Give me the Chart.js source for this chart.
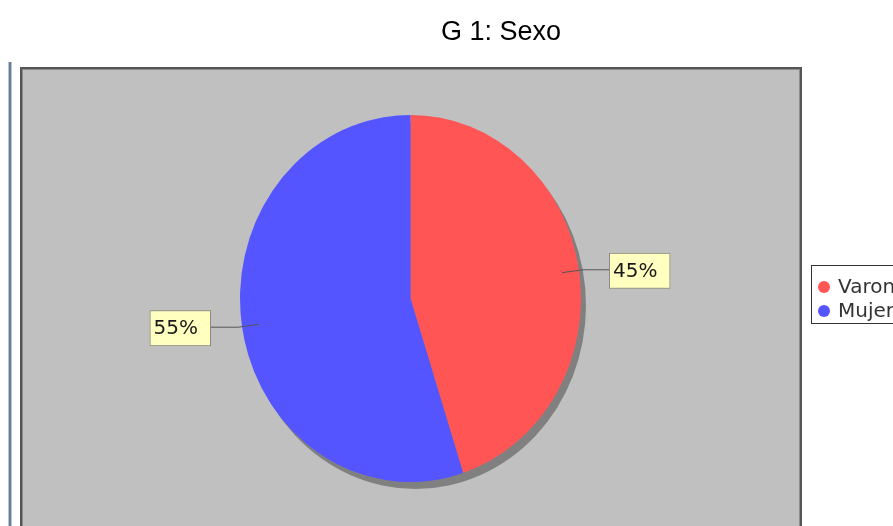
<!DOCTYPE html>
<html lang="es">
<head>
<meta charset="UTF-8">
<title>G 1: Sexo</title>
<script src="https://cdn.jsdelivr.net/npm/chart.js"></script>
<style>
  html, body { margin: 0; padding: 0; background: #fff; overflow: hidden; }
  canvas { display: block; }
</style>
</head>
<body>
<canvas id="sexoChart" width="893" height="526"></canvas>
<script>
// data
const titulo = 'G 1: Sexo';
const categorias = ['Varon', 'Mujer'];
const porcentajes = [45, 55];
const colores = ['#ff5555', '#5555ff'];

// the pie in the original is a bit taller than wide
const ESCALA_Y = 183.5 / 170.5;

// background, plot frame and title
const fondo = {
    id: 'fondo',
    beforeDraw(chart) {
        const c = chart.ctx;
        c.save();
        c.fillStyle = '#ffffff';
        c.fillRect(0, 0, chart.width, chart.height);

        // thin double rule on the far left
        c.fillStyle = '#b4c6d8';
        c.fillRect(8, 62, 1, 470);
        c.fillRect(11, 62, 1, 470);
        c.fillStyle = '#6a7f94';
        c.fillRect(9, 62, 2, 470);

        // gray plot box
        c.fillStyle = '#c0c0c0';
        c.fillRect(20, 67, 782, 480);
        c.strokeStyle = '#555555';
        c.lineWidth = 2;
        c.strokeRect(21, 68, 780, 480);
        c.strokeStyle = '#8c8c8c';
        c.lineWidth = 1;
        c.strokeRect(22.5, 69.5, 777, 480);

        // title
        c.fillStyle = '#000';
        c.font = '27px "Liberation Sans", Arial, sans-serif';
        c.textAlign = 'center';
        c.textBaseline = 'alphabetic';
        c.fillText(titulo, 501, 40);
        c.restore();
    }
};

// stretch the pie vertically and draw its drop shadow
const elipse = {
    id: 'elipse',
    beforeDatasetsDraw(chart) {
        const arc = chart.getDatasetMeta(0).data[0];
        const c = chart.ctx;
        c.save();
        c.translate(arc.x, arc.y);
        c.scale(1, ESCALA_Y);
        c.translate(-arc.x, -arc.y);
        c.fillStyle = '#808080';
        c.beginPath();
        c.arc(arc.x + 5, arc.y + 7 / ESCALA_Y, arc.outerRadius, 0, Math.PI * 2);
        c.fill();
    },
    afterDatasetsDraw(chart) {
        chart.ctx.restore();
    }
};

// percentage boxes with leader lines, and the legend
const etiquetas = {
    id: 'etiquetas',
    afterDraw(chart) {
        const c = chart.ctx;
        const meta = chart.getDatasetMeta(0);
        const total = porcentajes.reduce((a, b) => a + b, 0);
        c.save();
        c.font = '20px "DejaVu Sans", sans-serif';
        c.textBaseline = 'middle';
        meta.data.forEach((arc, i) => {
            const mid = (arc.startAngle + arc.endAngle) / 2;
            const r = arc.outerRadius;
            const cos = Math.cos(mid), sin = Math.sin(mid);
            const x0 = arc.x + cos * r * 0.9;
            const y0 = arc.y + sin * r * 0.9 * ESCALA_Y;
            const ye = arc.y + sin * r * ESCALA_Y + 1;
            const derecha = cos >= 0;
            const texto = Math.round(porcentajes[i] / total * 100) + '%';
            const w = c.measureText(texto).width + 17;
            const h = 36;
            const bx = derecha ? arc.x + r + 28 : arc.x - r - 29 - w;
            const by = ye - h / 2;

            c.strokeStyle = '#555555';
            c.lineWidth = 1;
            c.beginPath();
            c.moveTo(x0, y0);
            c.lineTo(derecha ? arc.x + r + 2 : arc.x - r - 2, ye - 1);
            c.lineTo(derecha ? bx : bx + w, ye - 1);
            c.stroke();

            c.fillStyle = '#ffffc0';
            c.fillRect(bx, by, w, h);
            c.strokeStyle = '#8a8a8a';
            c.strokeRect(bx + 0.5, by + 0.5, w - 1, h - 1);
            c.fillStyle = '#1a1a1a';
            c.textAlign = 'left';
            c.fillText(texto, bx + 4, ye + 1);
        });

        // legend
        const lx = 811, ly = 265, fila = 24;
        c.fillStyle = '#ffffff';
        c.fillRect(lx, ly, 120, fila * categorias.length + 10);
        c.strokeStyle = '#333333';
        c.lineWidth = 1;
        c.strokeRect(lx + 0.5, ly + 0.5, 120, fila * categorias.length + 10);
        c.font = '20px "DejaVu Sans", sans-serif';
        categorias.forEach((nombre, i) => {
            const yy = ly + 22 + i * fila;
            c.fillStyle = colores[i];
            c.beginPath();
            c.arc(lx + 13, yy, 6, 0, Math.PI * 2);
            c.fill();
            c.fillStyle = '#333333';
            c.fillText(nombre, lx + 27, yy + 1);
        });
        c.restore();
    }
};

new Chart(document.getElementById('sexoChart'), {
    type: 'pie',
    data: {
        labels: categorias,
        datasets: [{
            data: porcentajes,
            backgroundColor: colores,
            borderWidth: 0,
            clip: false
        }]
    },
    options: {
        responsive: false,
        devicePixelRatio: 1,
        animation: false,
        layout: {
            padding: { top: 128, bottom: 57, left: 200, right: 272 }
        },
        plugins: {
            legend: { display: false },
            title: { display: false },
            tooltip: { enabled: false }
        }
    },
    plugins: [fondo, elipse, etiquetas]
});
</script>
</body>
</html>
